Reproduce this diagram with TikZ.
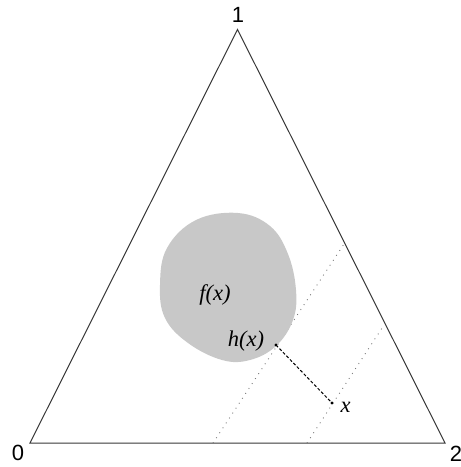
\documentclass[tikz,border=0pt]{standalone}
\usepackage{fontspec}
\setmainfont{Liberation Serif}
\newfontfamily\vertexfont{Liberation Sans}
\usetikzlibrary{positioning}
\definecolor{blobgray}{RGB}{200,200,200}
\definecolor{edgegray}{RGB}{55,55,55}
\definecolor{guidegray}{RGB}{120,120,120}

\begin{document}
\begin{tikzpicture}[
		x=1pt, y=-1pt,
		vertex/.style={font=\vertexfont\fontsize{22}{22}\selectfont, inner sep=0pt},
		mathtext/.style={font=\fontsize{22.5}{22.5}\selectfont\itshape, inner sep=0pt},
		guide/.style={draw=guidegray, line width=0.9pt, dash pattern=on 0.9pt off 5pt},
		endpoint/.style={fill=black, draw=none}
		]
		
		\useasboundingbox (0,0) rectangle (461,467);
		
		% Triangle
		\coordinate (v0) at (30,443);
		\coordinate (v1) at (237.5,29.5);
		\coordinate (v2) at (445,443);
		\draw[edgegray, line width=1pt] (v0) -- (v1) -- (v2) -- cycle;
		
		% Vertex labels
		\node[vertex] (n1) at (238,15) {1};
		\node[vertex] (n0) at (18,453) {0};
		\node[vertex] (n2) at (456,454) {2};
		
		% Guide lines
		\coordinate (g1a) at (213,443);
		\coordinate (g1b) at (344,244);
		\coordinate (g2a) at (307,443);
		\coordinate (g2b) at (384,325);
		\draw[guide] (g1a) -- (g1b);
		\draw[guide] (g2a) -- (g2b);
		
		% Region f(x)
		\fill[blobgray] plot[smooth cycle, tension=0.65] coordinates {
			(238,213) (270,226) (288,254) (296,290) (293,320) (276,346)
			(250,360) (222,360) (188,343) (165,318) (160,285) (167,248) (196,220)};
		
		% Points
		\coordinate (hx) at (276,345);
		\coordinate (xp) at (332,403);
		\draw[densely dashed, line width=1pt] (hx) -- (xp);
		\fill[endpoint] (hx) circle (1.6);
		\fill[endpoint] (xp) circle (1.6);
		
		% Labels
		\node[mathtext] (fx) at (215,295) {f(x)};
		\node[mathtext] (hxl) at (246,341) {h(x)};
		\node[mathtext] (xl) at (345.5,407) {x};
		
\end{tikzpicture}
\end{document}
